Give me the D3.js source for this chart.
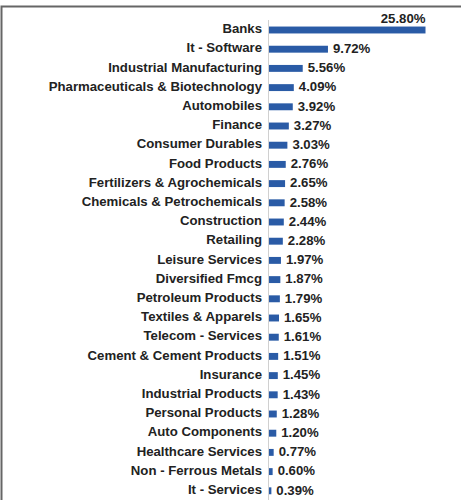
<!DOCTYPE html>
<html><head><meta charset="utf-8">
<script src="https://cdn.jsdelivr.net/npm/d3@7"></script>
<style>body{margin:0;background:#fff}svg{display:block}</style>
</head><body>
<script>
const categories = ["Banks","It - Software","Industrial Manufacturing","Pharmaceuticals & Biotechnology","Automobiles","Finance","Consumer Durables","Food Products","Fertilizers & Agrochemicals","Chemicals & Petrochemicals","Construction","Retailing","Leisure Services","Diversified Fmcg","Petroleum Products","Textiles & Apparels","Telecom - Services","Cement & Cement Products","Insurance","Industrial Products","Personal Products","Auto Components","Healthcare Services","Non - Ferrous Metals","It - Services"];
const values = [25.80,9.72,5.56,4.09,3.92,3.27,3.03,2.76,2.65,2.58,2.44,2.28,1.97,1.87,1.79,1.65,1.61,1.51,1.45,1.43,1.28,1.20,0.77,0.60,0.39];

const W = 461, H = 500;
const svg = d3.select("body").append("svg").attr("width", W).attr("height", H);

// frame
svg.append("path").attr("d", `M1.5,${H} L1.5,6.5 L${W},6.5`).attr("fill","none").attr("stroke","#666").attr("stroke-width",2);

const x0 = 269;
const x = d3.scaleLinear().domain([0, 25.80]).range([x0, 425.5]);
const y = d3.scaleBand().domain(categories).range([20.4, 500.4]).paddingInner(0.64).paddingOuter(0.32);

svg.append("line").attr("x1",268.5).attr("x2",268.5).attr("y1",20).attr("y2",H).attr("stroke","#d0d0d0").attr("stroke-width",1);

const font = "'Liberation Sans', Arial, sans-serif";
const fs = "13.2px";
svg.selectAll("text.cat").data(categories).join("text")
  .attr("class","cat")
  .attr("x", 262).attr("y", d => y(d) + y.bandwidth()/2 - 1.5)
  .attr("dy","0.36em").attr("text-anchor","end")
  .attr("font-family", font).attr("font-weight","bold").attr("font-size",fs).attr("fill","#222")
  .text(d => d);

svg.selectAll("rect.bar").data(values).join("rect")
  .attr("class","bar")
  .attr("x", x0).attr("y", (d,i) => y(categories[i]))
  .attr("width", d => x(d) - x0).attr("height", y.bandwidth())
  .attr("fill","#2a5ba6");

svg.selectAll("text.val").data(values).join("text")
  .attr("class","val")
  .attr("x", (d,i) => i === 0 ? x(d) : x(d) + 5)
  .attr("y", (d,i) => i === 0 ? y(categories[i]) - 4 : y(categories[i]) + y.bandwidth()/2 - 1)
  .attr("dy", (d,i) => i === 0 ? "0" : "0.36em")
  .attr("text-anchor", (d,i) => i === 0 ? "end" : "start")
  .attr("font-family", font).attr("font-weight","bold").attr("font-size",fs).attr("fill","#222")
  .text(d => d.toFixed(2) + "%");
</script>
</body></html>
